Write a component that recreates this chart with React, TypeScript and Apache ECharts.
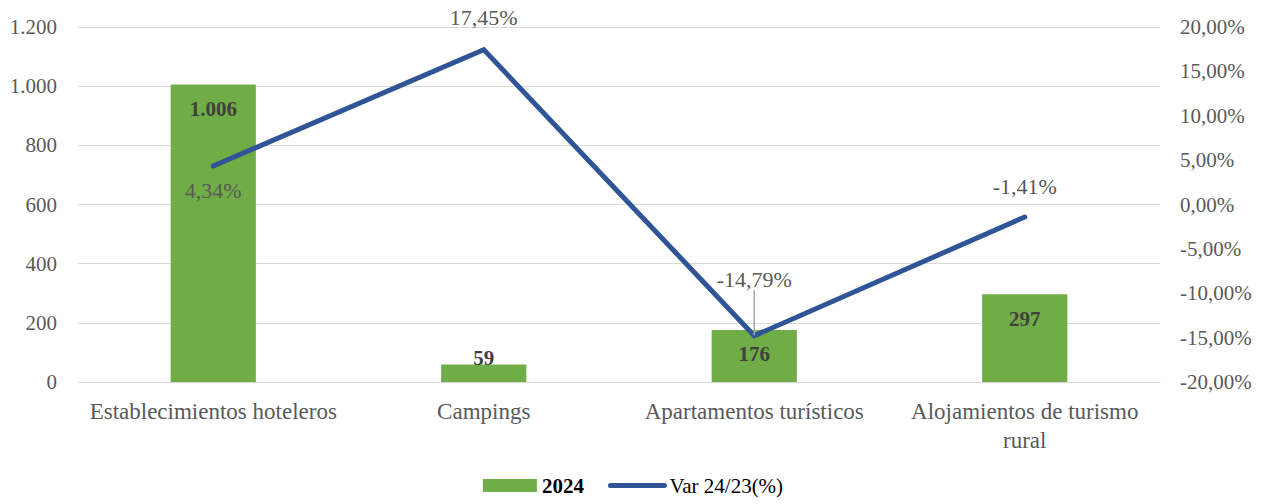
import React, { useEffect, useRef } from "react";
import * as echarts from "echarts";

const categories = [
  "Establecimientos hoteleros",
  "Campings",
  "Apartamentos turísticos",
  "Alojamientos de turismo\nrural",
];
const values2024 = [1006, 59, 176, 297];
const varPct = [4.34, 17.45, -14.79, -1.41];

const FONT = "Liberation Serif";
const GRAY = "#595959";
const FS = 21;

const fmtInt = (v: number) => {
  const s = String(Math.round(v));
  return s.replace(/\B(?=(\d{3})+(?!\d))/g, ".");
};
const fmtPct = (v: number) => v.toFixed(2).replace(".", ",") + "%";

export default function App() {
  const ref = useRef<HTMLDivElement>(null);
  useEffect(() => {
    if (!ref.current) return;
    const chart = echarts.init(ref.current, null, { renderer: "svg" });
    chart.setOption({
      animation: false,
      textStyle: { fontFamily: FONT },
      grid: { left: 78, right: 106, top: 27, bottom: 122, containLabel: false },
      legend: {
        bottom: 3,
        left: "center",
        itemGap: 24,
        itemWidth: 54,
        itemHeight: 13,
        textStyle: { fontFamily: FONT, fontSize: FS, color: "#000" },
        data: [
          { name: "2024", icon: "rect", textStyle: { fontWeight: "bold" } },
          {
            name: "Var 24/23(%)",
            itemStyle: { color: "rgba(0,0,0,0)" },
            lineStyle: { width: 5, color: "#2F5597", cap: "round" },
          },
        ],
      },
      xAxis: {
        type: "category",
        data: categories,
        axisLine: { show: true, lineStyle: { color: "#d9d9d9", width: 1 } },
        axisTick: { show: false },
        axisLabel: {
          color: GRAY,
          fontFamily: FONT,
          fontSize: 23,
          margin: 15,
          interval: 0,
          lineHeight: 29,
        },
      },
      yAxis: [
        {
          type: "value",
          min: 0,
          max: 1200,
          interval: 200,
          axisLine: { show: false },
          axisTick: { show: false },
          splitLine: { lineStyle: { color: "#d9d9d9", width: 1 } },
          axisLabel: {
            color: GRAY,
            fontFamily: FONT,
            fontSize: FS,
            margin: 21,
            formatter: (v: number) => fmtInt(v),
          },
        },
        {
          type: "value",
          min: -20,
          max: 20,
          interval: 5,
          axisLine: { show: false },
          axisTick: { show: false },
          splitLine: { show: false },
          axisLabel: {
            color: GRAY,
            fontFamily: FONT,
            fontSize: FS,
            margin: 20,
            formatter: (v: number) => fmtPct(v),
          },
        },
      ],
      series: [
        {
          name: "2024",
          type: "bar",
          yAxisIndex: 0,
          barWidth: "31.5%",
          itemStyle: { color: "#70AD47" },
          data: values2024.map((v, i) => ({
            value: v,
            label:
              i === 1
                ? { position: "top", distance: -4 }
                : { position: "insideTop", distance: 14 },
          })),
          label: {
            show: true,
            color: "#404040",
            fontFamily: FONT,
            fontSize: FS,
            fontWeight: "bold",
            formatter: (p: any) => fmtInt(p.value),
          },
        },
        {
          name: "Var 24/23(%)",
          type: "line",
          yAxisIndex: 1,
          symbol: "circle",
          symbolSize: 1,
          showSymbol: true,
          lineStyle: { color: "#2F5597", width: 5, cap: "round", join: "miter" },
          itemStyle: { color: "rgba(0,0,0,0)" },
          data: varPct.map((v, i) => ({
            value: v,
            label:
              i === 0
                ? { position: "bottom", distance: 13 }
                : { position: "top", distance: i === 1 ? 21 : 19 },
            labelLine: { show: i === 2 },
          })),
          label: {
            show: true,
            color: GRAY,
            fontFamily: FONT,
            fontSize: 22,
            formatter: (p: any) => fmtPct(p.value),
          },
          labelLayout: (params: any) =>
            params.dataIndex === 2 ? { dy: -26 } : {},
          labelLine: {
            show: false,
            lineStyle: { color: "#a6a6a6", width: 1.5 },
          },
        },
      ],
    });
    return () => chart.dispose();
  }, []);
  return (
    <div
      ref={ref}
      style={{ position: "fixed", left: 0, top: 0, width: 1266, height: 504, background: "#fff" }}
    />
  );
}
